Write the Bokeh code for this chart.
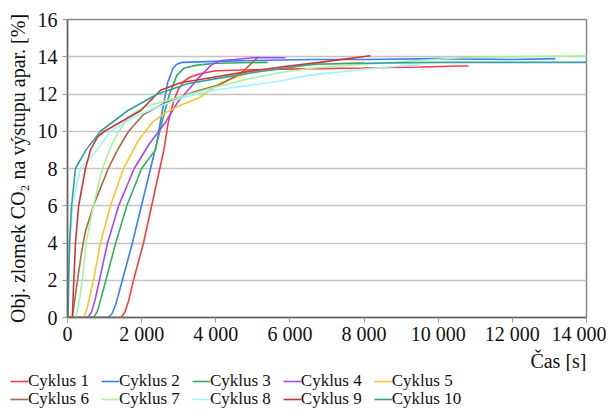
from bokeh.plotting import figure
from bokeh.layouts import column, row
from bokeh.models import Legend, LegendItem, Title, FixedTicker, Range1d
from bokeh.embed import file_html
from bokeh.resources import INLINE

x_ticks = [0, 2000, 4000, 6000, 8000, 10000, 12000, 14000]
x_tick_labels = ["0", "2 000", "4 000", "6 000", "8 000", "10 000", "12 000", "14 000"]
y_ticks = [0, 2, 4, 6, 8, 10, 12, 14, 16]

names = ["Cyklus 1", "Cyklus 2", "Cyklus 3", "Cyklus 4", "Cyklus 5",
         "Cyklus 6", "Cyklus 7", "Cyklus 8", "Cyklus 9", "Cyklus 10"]
colors = ["#ff3b3b", "#3a7dff", "#2eb05c", "#a844ff", "#ffc22e",
          "#a8693e", "#a6f5a0", "#9ff3ff", "#cf3434", "#32a0a0"]

c1_t = [0, 1450, 1550, 1650, 1780, 2050, 2270, 2490, 2600, 2720, 2860, 3000, 3150, 3300, 3600, 4000, 5000, 6300, 8000, 9500, 10600, 10820]
c1_v = [0, 0, 0.3, 0.9, 2.0, 4.0, 6.0, 8.0, 9.0, 10.5, 11.6, 12.3, 12.7, 12.9, 13.1, 13.25, 13.3, 13.35, 13.4, 13.45, 13.5, 13.5]

c2_t = [0, 1100, 1200, 1300, 1480, 1750, 1995, 2240, 2400, 2550, 2700, 2850, 2950, 3100, 4000, 5000, 6600, 8000, 10000, 12000, 13160]
c2_v = [0, 0, 0.2, 0.7, 2.0, 4.0, 6.0, 8.0, 9.3, 11.0, 12.6, 13.4, 13.6, 13.7, 13.75, 13.8, 13.85, 13.85, 13.9, 13.85, 13.9]

c3_t = [0, 700, 800, 900, 1035, 1300, 1600, 2000, 2370, 2550, 2750, 2950, 3150, 3500, 4000, 5400]
c3_v = [0, 0, 0.3, 1.0, 2.0, 4.0, 6.0, 8.0, 9.0, 10.5, 12.0, 13.0, 13.4, 13.55, 13.65, 13.7]

c4_t = [0, 550, 650, 750, 860, 1080, 1380, 1800, 2200, 2650, 2950, 3250, 3600, 3900, 4150, 4500, 5000, 5880]
c4_v = [0, 0, 0.3, 1.0, 2.0, 4.0, 6.0, 8.0, 9.3, 10.5, 11.5, 12.2, 13.0, 13.6, 13.8, 13.85, 13.95, 13.95]

c5_t = [0, 430, 520, 600, 700, 890, 1160, 1510, 1910, 2300, 2650, 3050, 3550, 4130, 4850, 5560, 6800, 8000]
c5_v = [0, 0, 0.4, 1.1, 2.0, 4.0, 6.0, 8.0, 9.5, 10.5, 11.0, 11.4, 11.8, 12.6, 13.1, 13.4, 13.6, 13.7]

c6_t = [0, 130, 200, 270, 380, 480, 700, 900, 1100, 1350, 1650, 2050, 2700, 3400, 4100, 4670, 5150]
c6_v = [0, 0, 1.0, 2.0, 3.5, 4.6, 6.0, 7.0, 8.0, 9.0, 10.0, 10.9, 11.6, 12.1, 12.5, 13.1, 14.0]

c7_t = [0, 220, 330, 400, 500, 700, 940, 1240, 1620, 2050, 2970, 3940, 4850, 5750, 6640, 8000, 9500, 10600, 12000, 14000]
c7_v = [0, 0, 1.0, 2.0, 4.0, 6.0, 8.0, 9.5, 10.75, 11.3, 11.8, 12.35, 12.8, 13.15, 13.4, 13.6, 13.8, 13.95, 14.0, 14.05]

c8_t = [0, 20, 40, 130, 350, 800, 1160, 1780, 2430, 3100, 3940, 4850, 5750, 6500, 8170, 9000, 9500]
c8_v = [0, 0, 3.0, 6.0, 8.0, 9.0, 10.0, 10.75, 11.3, 11.8, 12.2, 12.45, 12.7, 13.0, 13.36, 13.5, 13.55]

c9_t = [0, 130, 170, 215, 300, 485, 620, 810, 1000, 1350, 1970, 2510, 3050, 3940, 4850, 5750, 6800, 8170]
c9_v = [0, 0, 2.0, 4.0, 6.0, 8.0, 9.0, 9.7, 10.0, 10.4, 11.1, 12.2, 12.6, 12.9, 13.2, 13.45, 13.7, 14.05]

c10_t = [0, 15, 30, 55, 110, 215, 500, 890, 1620, 2430, 3240, 3940, 4850, 5750, 6640, 8000, 10000, 14000]
c10_v = [0, 0, 2.0, 4.0, 6.0, 8.0, 9.0, 10.0, 11.1, 12.0, 12.55, 12.8, 13.1, 13.36, 13.6, 13.65, 13.7, 13.7]

series_t = [c1_t, c2_t, c3_t, c4_t, c5_t, c6_t, c7_t, c8_t, c9_t, c10_t]
series_v = [c1_v, c2_v, c3_v, c4_v, c5_v, c6_v, c7_v, c8_v, c9_v, c10_v]

FONT = "Liberation Serif"
FS = "20px"

p = figure(frame_width=519, frame_height=298, output_backend="svg", toolbar_location=None,
           x_range=Range1d(0, 14000), y_range=Range1d(0, 16),
           min_border_left=67, min_border_right=20, min_border_top=19, min_border_bottom=0)

for t, v, c in zip(series_t, series_v, colors):
    p.line(t, v, line_color=c, line_width=1.6)

p.xaxis.ticker = FixedTicker(ticks=x_ticks)
p.xaxis.major_label_overrides = {t: l for t, l in zip(x_ticks, x_tick_labels)}
p.yaxis.ticker = FixedTicker(ticks=y_ticks)

for ax in (p.xaxis, p.yaxis):
    ax.major_label_text_font = FONT
    ax.major_label_text_font_size = FS
    ax.major_label_text_color = "#111111"
    ax.axis_line_color = "#666666"
    ax.axis_line_width = 1.5
    ax.major_tick_line_color = "#999999"
    ax.major_tick_in = 0
    ax.major_tick_out = 5
    ax.minor_tick_line_color = None
    ax.axis_label_text_font = FONT
    ax.axis_label_text_font_size = FS
    ax.axis_label_text_font_style = "normal"
    ax.axis_label_text_color = "#111111"

p.xaxis.major_label_standoff = 0
p.yaxis.major_label_standoff = 5
p.yaxis.axis_label = "Obj. zlomek CO\u2082 na výstupu apar. [%]"
p.yaxis.axis_label_standoff = 6

p.xgrid.grid_line_color = None
p.ygrid.grid_line_color = "#c4c4c4"
p.ygrid.grid_line_width = 1.5
p.outline_line_color = "#888888"
p.outline_line_width = 1.5

xt = Title(text="Čas [s]", align="right", text_font=FONT, text_font_size=FS,
           text_font_style="normal", text_color="#111111", standoff=0)
p.add_layout(xt, "below")

# legend strip below the chart (lines drawn out of its visible range, only the key shows)
lf = figure(width=606, height=38, output_backend="svg", toolbar_location=None,
            x_range=Range1d(0, 14000), y_range=Range1d(-30, -20),
            x_axis_type=None, y_axis_type=None, min_border=0)
lf.outline_line_color = None
lf.xgrid.grid_line_color = None
lf.ygrid.grid_line_color = None
lrs = [lf.line(t, v, line_color=c, line_width=1.6) for t, v, c in zip(series_t, series_v, colors)]
items = [LegendItem(label=n, renderers=[r]) for n, r in zip(names, lrs)]
for items_row, yb in ((items[:5], 18), (items[5:], 0)):
    lg = Legend(items=items_row, orientation="horizontal",
                label_text_font=FONT, label_text_font_size="17px", label_text_color="#111111",
                glyph_width=18, glyph_height=20, label_standoff=0, spacing=12, padding=0,
                margin=0, border_line_color=None, background_fill_alpha=0,
                label_height=20, location=(10, yb))
    lf.add_layout(lg, "center")

open("out.html", "w").write(file_html(column(p, row(lf, spacing=0), spacing=0), INLINE))
